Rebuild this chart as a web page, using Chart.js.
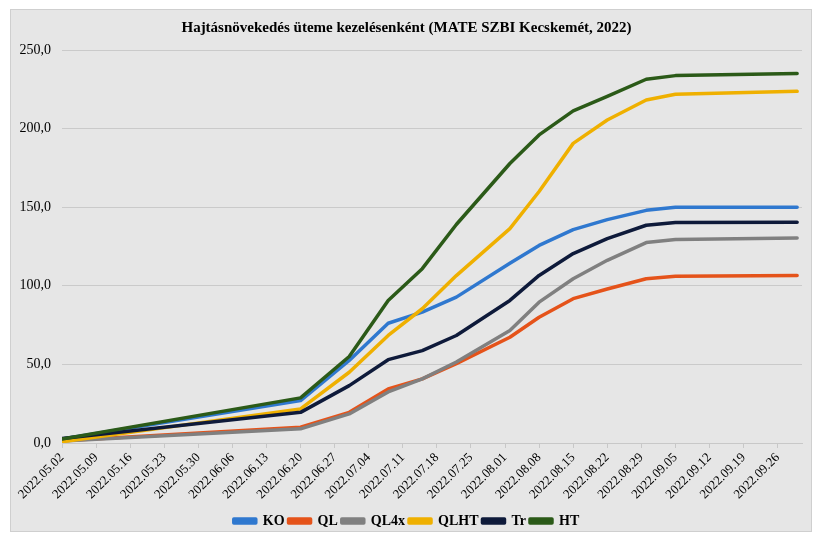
<!DOCTYPE html>
<html>
<head>
<meta charset="utf-8">
<script src="https://cdn.jsdelivr.net/npm/chart.js@4"></script>
<style>
    body { margin: 0; background: #fff; }
    #box {
        position: absolute; left: 10px; top: 9px;
        width: 800px; height: 521px;
        background: #e6e6e6;
        border: 1px solid #cfcfcf;
        overflow: hidden;
    }
</style>
</head>
<body>
<div id="box"><canvas id="chart"></canvas></div>
<script>
// measurement dates and shoot growth per treatment
const dates = ['2022.05.02', '2022.06.20', '2022.06.30', '2022.07.08', '2022.07.15', '2022.07.22',
               '2022.08.02', '2022.08.08', '2022.08.15', '2022.08.22', '2022.08.30', '2022.09.05', '2022.09.30'];
const seriesNames = ['KO', 'QL', 'QL4x', 'QLHT', 'Tr', 'HT'];
const KO   = [2.5, 27.0, 52.5, 76.2, 83.2, 92.8, 114.3, 125.7, 135.7, 142.1, 148.0, 150.0, 150.0];
const QL   = [1.5, 10.0, 19.5, 34.4, 40.8, 50.5, 67.3, 80.0, 91.8, 98.0, 104.5, 106.0, 106.6];
const QL4x = [1.3, 9.0, 18.5, 32.5, 40.8, 51.5, 71.6, 89.6, 104.5, 116.2, 127.5, 129.4, 130.4];
const QLHT = [0.8, 21.7, 45.0, 68.4, 85.4, 106.5, 136.4, 160.0, 190.6, 205.5, 218.2, 221.8, 223.7];
const Tr   = [2.8, 19.5, 36.5, 53.0, 58.8, 68.4, 90.7, 106.6, 120.5, 130.0, 138.5, 140.2, 140.4];
const HT   = [2.5, 28.7, 55.0, 90.7, 110.9, 139.0, 177.8, 196.0, 211.3, 220.5, 231.4, 233.7, 235.0];
const colors = ['#2f78cf', '#e5531a', '#808080', '#efb000', '#0e1a3a', '#2b5a18'];

const startDate = new Date(2022, 4, 2);
const axisEndDay = 152;

function toDay(s) {
    const p = s.split('.');
    const d = new Date(+p[0], +p[1] - 1, +p[2]);
    return Math.round((d - startDate) / 86400000);
}

function dayLabel(day) {
    const d = new Date(2022, 4, 2 + day);
    const mm = String(d.getMonth() + 1).padStart(2, '0');
    const dd = String(d.getDate()).padStart(2, '0');
    return d.getFullYear() + '.' + mm + '.' + dd;
}

const days = dates.map(toDay);
const allValues = [KO, QL, QL4x, QLHT, Tr, HT];

const datasets = allValues.map((vals, i) => ({
    label: seriesNames[i],
    data: vals.map((v, j) => ({x: days[j], y: v})),
    borderColor: colors[i],
    backgroundColor: colors[i],
    borderWidth: 3.5,
    pointRadius: 0,
    tension: 0,
    borderCapStyle: 'round',
    borderJoinStyle: 'round',
    order: allValues.length - i
}));

const serif = "'Liberation Serif', 'Times New Roman', serif";

new Chart(document.getElementById('chart'), {
    type: 'line',
    data: { datasets: datasets },
    options: {
        responsive: true,
        maintainAspectRatio: false,
        animation: false,
        devicePixelRatio: 1,
        layout: { padding: { left: 0, right: 9, top: 0, bottom: -7 } },
        plugins: {
            title: {
                display: true,
                text: 'Hajtásnövekedés üteme kezelésenként (MATE SZBI Kecskemét, 2022)',
                color: '#000',
                font: { family: serif, size: 15, weight: 'bold', lineHeight: 1.2 },
                padding: { top: 9, bottom: 13 }
            },
            legend: {
                position: 'bottom',
                labels: {
                    sort: (a, b) => a.datasetIndex - b.datasetIndex,
                    color: '#000',
                    font: { family: serif, size: 14, weight: 'bold' },
                    boxWidth: 22,
                    boxHeight: 4,
                    padding: 4
                }
            },
            tooltip: { enabled: false }
        },
        scales: {
            x: {
                type: 'linear',
                min: 0,
                max: axisEndDay,
                afterFit: scale => { scale.height = 67; },
                grid: { drawOnChartArea: false, drawTicks: true, tickLength: 5, color: '#c8c8c8' },
                border: { color: '#c8c8c8' },
                ticks: {
                    stepSize: 7,
                    includeBounds: false,
                    autoSkip: false,
                    minRotation: 45,
                    maxRotation: 45,
                    padding: 2,
                    color: '#000',
                    font: { family: serif, size: 13 },
                    callback: v => dayLabel(v)
                }
            },
            y: {
                min: 0,
                max: 250,
                afterFit: scale => { scale.width = 51; },
                grid: { color: '#cacaca', drawTicks: false },
                border: { display: false },
                ticks: {
                    stepSize: 50,
                    padding: 11,
                    color: '#000',
                    font: { family: serif, size: 14 },
                    callback: v => v.toFixed(1).replace('.', ',')
                }
            }
        }
    }
});
</script>
</body>
</html>
